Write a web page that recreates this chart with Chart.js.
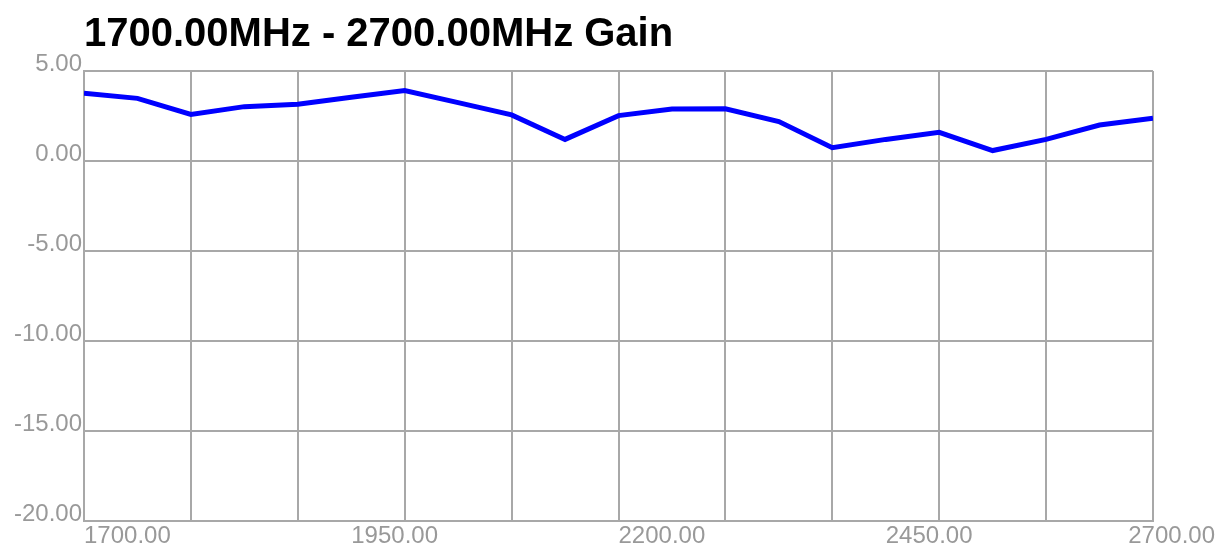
<!DOCTYPE html>
<html>
<head>
<meta charset="utf-8">
<script src="https://cdn.jsdelivr.net/npm/chart.js@4.4.1/dist/chart.umd.min.js"></script>
<style>
  html, body { margin: 0; padding: 0; background: #fff; }
  #wrap { width: 1232px; height: 551px; }
</style>
</head>
<body>
<div id="wrap"><canvas id="gain-chart" width="1232" height="551"></canvas></div>
<script>
// frequency (MHz) and gain (dB)
var freqs = [1700, 1750, 1800, 1850, 1900, 1950, 2000, 2050, 2100, 2150, 2200,
             2250, 2300, 2350, 2400, 2450, 2500, 2550, 2600, 2650, 2700];
var gains = [3.76, 3.48, 2.59, 3.02, 3.15, 3.54, 3.91, 3.24, 2.56, 1.20, 2.52,
             2.89, 2.90, 2.19, 0.74, 1.20, 1.59, 0.58, 1.20, 2.00, 2.37];
var xTickValues = [1700, 1950, 2200, 2450, 2700];
var xTickLabels = ['1700.00', '1950.00', '2200.00', '2450.00', '2700.00'];
var titleText = '1700.00MHz - 2700.00MHz Gain';

var gridGray = '#a8a8a8';
var labelGray = '#999999';
var labelFont = { family: 'Liberation Sans, Arial, sans-serif', size: 24 };

var points = freqs.map(function (f, i) { return { x: f, y: gains[i] }; });

// x labels: left edge on the tick, kept inside the canvas
var xLabelPlugin = {
  id: 'xLabels',
  afterDraw: function (chart) {
    var ctx = chart.ctx;
    var sx = chart.scales.x;
    ctx.save();
    ctx.font = '24px "Liberation Sans", Arial, sans-serif';
    ctx.fillStyle = labelGray;
    ctx.textBaseline = 'top';
    ctx.textAlign = 'left';
    xTickValues.forEach(function (v, i) {
      var px = sx.getPixelForValue(v);
      var w = ctx.measureText(xTickLabels[i]).width;
      if (px + w > chart.width - 17) px = chart.width - 17 - w;
      ctx.fillText(xTickLabels[i], px, sx.top + 3);
    });
    ctx.restore();
  }
};

var chrt = document.getElementById('gain-chart').getContext('2d');
var chartId = new Chart(chrt, {
  type: 'line',
  data: {
    datasets: [{
      label: 'Gain',
      data: points,
      borderColor: '#0000ff',
      backgroundColor: '#0000ff',
      borderWidth: 5,
      pointRadius: 0,
      tension: 0,
      fill: false
    }]
  },
  options: {
    responsive: false,
    animation: false,
    layout: { padding: { left: 0, right: 79, top: 0, bottom: 0 } },
    plugins: {
      legend: { display: false },
      tooltip: { enabled: false },
      title: {
        display: true,
        text: titleText,
        align: 'start',
        fullSize: false,
        color: '#000000',
        font: { family: 'Liberation Sans, Arial, sans-serif', size: 40, weight: 'bold' },
        padding: { top: 11, bottom: 12 }
      }
    },
    scales: {
      x: {
        type: 'linear',
        position: 'bottom',
        min: 1700,
        max: 2700,
        afterFit: function (scale) { scale.height = 30; scale.paddingLeft = 0; scale.paddingRight = 0; },
        ticks: {
          stepSize: 100,
          callback: function () { return ''; }
        },
        grid: { color: gridGray, lineWidth: 2, drawTicks: false },
        border: { color: gridGray, width: 2 }
      },
      y: {
        min: -20,
        max: 5,
        afterFit: function (scale) { scale.width = 84; scale.paddingTop = 0; scale.paddingBottom = 0; },
        ticks: {
          stepSize: 5,
          padding: 2,
          labelOffset: -7,
          color: labelGray,
          font: labelFont,
          callback: function (v) { return v.toFixed(2); }
        },
        grid: { color: gridGray, lineWidth: 2, drawTicks: false },
        border: { color: gridGray, width: 2 }
      }
    }
  },
  plugins: [xLabelPlugin]
});
</script>
</body>
</html>
